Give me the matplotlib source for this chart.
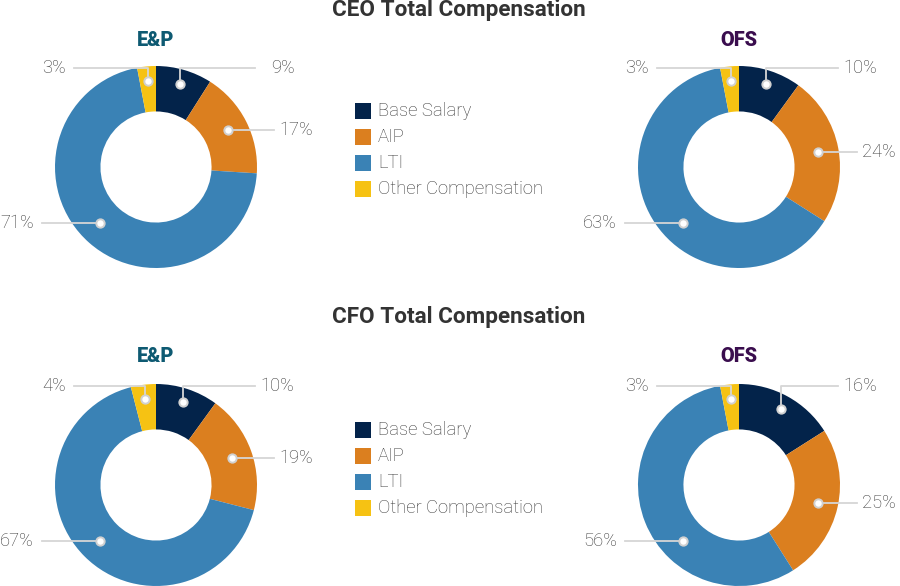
import matplotlib
matplotlib.use("Agg")
import matplotlib.pyplot as plt
from matplotlib.patches import Rectangle
import numpy as np

plt.rcParams['font.family'] = ['Roboto', 'DejaVu Sans']

categories = ["Base Salary", "AIP", "LTI", "Other Compensation"]
colors = ["#03234a", "#db7f1f", "#3a82b5", "#f6c213"]

ceo_ep = [9, 17, 71, 3]
ceo_ofs = [10, 24, 63, 3]
cfo_ep = [10, 19, 67, 4]
cfo_ofs = [16, 25, 56, 3]

section_titles = ["CEO Total Compensation", "CFO Total Compensation"]
group_titles = ["E&P", "OFS"]
group_colors = ["#0e5a72", "#3a0d4e"]

# label placement style per category
label_style = ["top", "side", "side", "top"]
label_fixed_angle = [None, None, 225, None]   # degrees clockwise from top
label_radius = [0.86, 0.8, 0.78, 0.86]

W, H = 900, 586
fig = plt.figure(figsize=(W / 100, H / 100), dpi=100)

R = 101
TXT = "#3a3a3a"
LINE = "#d6d6d6"
PCT_FS = 13.2


def fx(px):
    return px / W


def fy(py):
    return 1 - py / H


def donut(cx, cy, values):
    ax = fig.add_axes([fx(cx - R), fy(cy + R), 2 * R / W, 2 * R / H])
    ax.pie(values, colors=colors, startangle=90, counterclock=False, radius=1,
           wedgeprops=dict(width=0.45, linewidth=0))
    ax.set_xlim(-1, 1)
    ax.set_ylim(-1, 1)
    ax.axis("off")
    total = float(sum(values))
    cum = 0.0
    for v, style, fixed, r in zip(values, label_style, label_fixed_angle, label_radius):
        mid = (cum + v / 2) / total * 2 * np.pi
        cum += v
        if fixed is not None:
            mid = np.deg2rad(fixed)
        xm, ym = r * np.sin(mid), r * np.cos(mid)
        txt = f"{v}%"
        kw = dict(fontsize=PCT_FS, color=TXT, fontweight="light", clip_on=False, va="center")
        if style == "top":
            yl = 0.98
            if xm >= 0:
                ax.plot([xm, xm, 0.98], [ym, yl, yl], color=LINE, lw=1.3, clip_on=False, zorder=3)
                ax.text(1.37, yl, txt, ha="right", **kw)
            else:
                ax.plot([xm, xm, -0.81], [ym, yl, yl], color=LINE, lw=1.3, clip_on=False, zorder=3)
                ax.text(-1.13, yl, txt, ha="left", **kw)
        else:
            if xm >= 0:
                ax.plot([xm, 1.17], [ym, ym], color=LINE, lw=1.3, clip_on=False, zorder=3)
                ax.text(1.22, ym, txt, ha="left", **kw)
            else:
                ax.plot([xm, -1.13], [ym, ym], color=LINE, lw=1.3, clip_on=False, zorder=3)
                ax.text(-1.21, ym, txt, ha="right", **kw)
        ax.plot([xm], [ym], marker="o", ms=6, mfc="white", mec="#d0d0d0", mew=1.4,
                clip_on=False, zorder=4)
    return ax


def legend(top_py):
    for i, (cat, col) in enumerate(zip(categories, colors)):
        yc = top_py + i * 26
        fig.patches.append(Rectangle((fx(355), fy(yc + 8)), 16 / W, 16 / H,
                                     transform=fig.transFigure, facecolor=col,
                                     edgecolor="none"))
        fig.text(fx(378), fy(yc), cat, ha="left", va="center", fontsize=13.3,
                 color=TXT, fontweight="light")


sections = [
    (10, 40, 167, 111, [ceo_ep, ceo_ofs]),
    (317, 357, 485, 430, [cfo_ep, cfo_ofs]),
]
centers_x = [156, 739]

for title, (ty, sy, cy, ly, data) in zip(section_titles, sections):
    fig.text(fx(459), fy(ty), title, ha="center", va="center", fontsize=16.2,
             fontweight="bold", color="#333333")
    for cx, gt, gc, vals in zip(centers_x, group_titles, group_colors, data):
        fig.text(fx(cx), fy(sy), gt, ha="center", va="center", fontsize=14.3,
                 fontweight="black", color=gc)
        donut(cx, cy, vals)
    legend(ly)

fig.savefig("out.png", dpi=100, facecolor="white")
